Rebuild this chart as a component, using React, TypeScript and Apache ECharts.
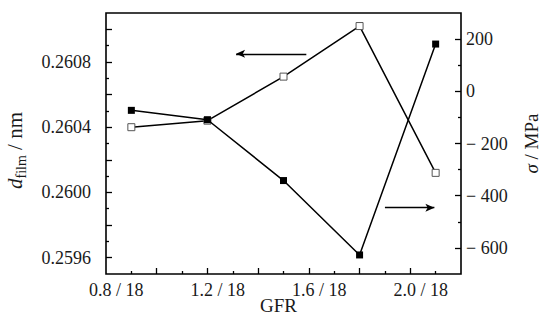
import React, { useEffect, useRef } from 'react';
import * as echarts from 'echarts';

// GFR values (in units of 1/18)
const gfr = [0.8, 1.1, 1.4, 1.7, 2.0];
// lattice spacing d_film (nm), open squares, left axis
const dFilm = [0.2604, 0.26044, 0.26071, 0.26102, 0.26012];
// residual stress sigma (MPa), filled squares, right axis
const sigma = [-73, -109, -342, -627, 181];

const xLabelValues = [0.8, 1.2, 1.6, 2.0];
const xMajorTicks = [0.9, 1.1, 1.3, 1.5, 1.7, 1.9];
const xMinorTicks = [0.8, 1.0, 1.2, 1.4, 1.6, 1.8, 2.0];
const leftLabels = [0.2596, 0.26, 0.2604, 0.2608];
const leftMajorTicks = [0.2596, 0.2598, 0.26, 0.2602, 0.2604, 0.2606, 0.2608, 0.261];
const leftMinorTicks = [0.2597, 0.2599, 0.2601, 0.2603, 0.2605, 0.2607, 0.2609];
const rightLabels = [-600, -400, -200, 0, 200];
const rightMinorTicks = [-500, -300, -100, 100];

// arrows indicating which axis each curve belongs to (data coordinates)
const leftArrowFrom = [1.49, 0.26085];
const leftArrowTo = [1.213, 0.26085];
const rightArrowFrom = [1.8, -446];
const rightArrowTo = [1.995, -446];

const FONT = 'Liberation Serif';
const TXT = '#1a1a1a';

export default function App() {
  const ref = useRef<HTMLDivElement>(null);
  useEffect(() => {
    document.body.style.margin = '0';
    if (!ref.current) return;
    const chart = echarts.init(ref.current, null, { renderer: 'svg' });
    const tickStyle = { color: '#000', width: 1.3 };
    const noLine = { show: false, onZero: false };
    const option: any = {
      animation: false,
      backgroundColor: '#fff',
      textStyle: { fontFamily: FONT, color: TXT },
      grid: {
        left: 106,
        right: 82,
        top: 13,
        bottom: 47,
        show: true,
        borderColor: '#000',
        borderWidth: 1.6,
        backgroundColor: 'transparent',
        outerBoundsMode: 'none',
      },
      xAxis: [
        {
          type: 'value',
          min: 0.7,
          max: 2.1,
          position: 'bottom',
          name: 'GFR',
          nameLocation: 'middle',
          nameGap: 22,
          nameMoveOverlap: false,
          nameTextStyle: { fontFamily: FONT, fontSize: 19, color: TXT, padding: [0, 10, 0, 0] },
          axisLine: noLine,
          splitLine: { show: false },
          axisTick: { inside: true, length: 6, lineStyle: tickStyle, customValues: xMajorTicks },
          axisLabel: {
            customValues: xLabelValues,
            fontFamily: FONT,
            fontSize: 18,
            color: TXT,
            margin: 7,
            padding: [0, 30, 0, 0],
            formatter: (v: number) => `${v.toFixed(1)} / 18`,
          },
        },
        {
          type: 'value',
          min: 0.7,
          max: 2.1,
          position: 'bottom',
          axisLine: noLine,
          splitLine: { show: false },
          axisTick: { inside: true, length: 3, lineStyle: tickStyle, customValues: xMinorTicks },
          axisLabel: { show: false },
        },
      ],
      yAxis: [
        {
          type: 'value',
          min: 0.2595,
          max: 0.2611,
          position: 'left',
          name: '{i|d}{sub|film}{n| / nm}',
          nameLocation: 'middle',
          nameRotate: 90,
          nameGap: 78,
          nameMoveOverlap: false,
          nameTextStyle: {
            fontFamily: FONT,
            color: TXT,
            rich: {
              i: { fontFamily: FONT, fontSize: 21, fontStyle: 'italic', lineHeight: 26, verticalAlign: 'middle', color: TXT },
              sub: { fontFamily: FONT, fontSize: 14, lineHeight: 16, verticalAlign: 'bottom', color: TXT },
              n: { fontFamily: FONT, fontSize: 21, lineHeight: 26, verticalAlign: 'middle', color: TXT, padding: [0, 14, 0, 0] },
            },
          },
          axisLine: noLine,
          splitLine: { show: false },
          axisTick: { inside: true, length: 6, lineStyle: tickStyle, customValues: leftMajorTicks },
          axisLabel: {
            customValues: leftLabels,
            fontFamily: FONT,
            fontSize: 18,
            color: TXT,
            margin: 15,
            formatter: (v: number) => v.toFixed(4),
          },
        },
        {
          type: 'value',
          min: -700,
          max: 300,
          position: 'right',
          name: '{i|σ}{n| / MPa}',
          nameLocation: 'middle',
          nameRotate: 90,
          nameGap: 61,
          nameMoveOverlap: false,
          nameTextStyle: {
            fontFamily: FONT,
            color: TXT,
            rich: {
              i: { fontFamily: FONT, fontSize: 19, fontStyle: 'italic', color: TXT },
              n: { fontFamily: FONT, fontSize: 19, color: TXT },
            },
          },
          axisLine: noLine,
          splitLine: { show: false },
          axisTick: { inside: true, length: 6, lineStyle: tickStyle, customValues: rightLabels },
          axisLabel: {
            customValues: rightLabels,
            fontFamily: FONT,
            fontSize: 18,
            color: TXT,
            margin: 5,
            formatter: (v: number) => (v < 0 ? `− ${Math.abs(v)}` : `${v}`),
          },
        },
        {
          type: 'value',
          min: 0.2595,
          max: 0.2611,
          position: 'left',
          axisLine: noLine,
          splitLine: { show: false },
          axisTick: { inside: true, length: 3, lineStyle: tickStyle, customValues: leftMinorTicks },
          axisLabel: { show: false },
        },
        {
          type: 'value',
          min: -700,
          max: 300,
          position: 'right',
          axisLine: noLine,
          splitLine: { show: false },
          axisTick: { inside: true, length: 3, lineStyle: tickStyle, customValues: rightMinorTicks },
          axisLabel: { show: false },
        },
      ],
      series: [
        {
          name: 'd_film',
          type: 'line',
          xAxisIndex: 0,
          yAxisIndex: 0,
          data: gfr.map((x, i) => [x, dFilm[i]]),
          symbol: 'rect',
          symbolSize: 7,
          showSymbol: true,
          lineStyle: { color: '#000', width: 1.5 },
          itemStyle: { color: '#fff', borderColor: '#555', borderWidth: 1 },
          z: 2,
          markLine: {
            silent: true,
            symbol: ['none', 'arrow'],
            symbolSize: [6, 9],
            label: { show: false },
            lineStyle: { color: '#000', width: 1.3, type: 'solid' },
            data: [[{ coord: leftArrowFrom }, { coord: leftArrowTo }]],
          },
        },
        {
          name: 'sigma',
          type: 'line',
          xAxisIndex: 0,
          yAxisIndex: 1,
          data: gfr.map((x, i) => [x, sigma[i]]),
          symbol: 'rect',
          symbolSize: 7,
          showSymbol: true,
          lineStyle: { color: '#000', width: 1.5 },
          itemStyle: { color: '#000', borderColor: '#000', borderWidth: 0 },
          z: 3,
          markLine: {
            silent: true,
            symbol: ['none', 'arrow'],
            symbolSize: [6, 9],
            label: { show: false },
            lineStyle: { color: '#000', width: 1.3, type: 'solid' },
            data: [[{ coord: rightArrowFrom }, { coord: rightArrowTo }]],
          },
        },
      ],
    };
    chart.setOption(option);
    return () => chart.dispose();
  }, []);
  return <div ref={ref} style={{ width: 543, height: 321 }} />;
}
